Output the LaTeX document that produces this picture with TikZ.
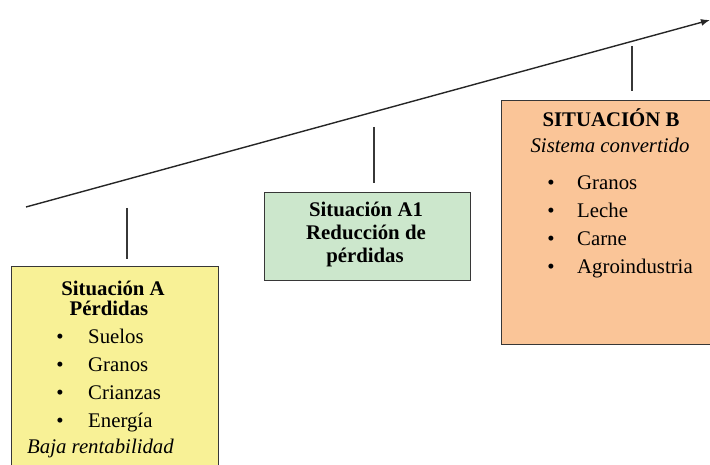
\documentclass[tikz,border=0pt]{standalone}
\usepackage{fontspec}
\setmainfont{Liberation Serif}
\usetikzlibrary{arrows.meta}
\definecolor{boxyellow}{RGB}{248,241,150}
\definecolor{boxgreen}{RGB}{204,231,204}
\definecolor{boxorange}{RGB}{250,197,152}
\definecolor{edge}{RGB}{55,55,55}
\tikzset{
  box/.style={draw=edge, line width=1.4pt, anchor=north west, inner sep=0pt},
  txt/.style={anchor=base, inner sep=0pt, font=\fontsize{20.8}{25}\selectfont},
  txtl/.style={anchor=base west, inner sep=0pt, font=\fontsize{20.8}{25}\selectfont},
  tick/.style={draw=edge, line width=1.3pt},
  timeline/.style={draw=black!85, line width=1.4pt, -{Latex[length=9pt,width=7pt]}}
}
\begin{document}
\begin{tikzpicture}[x=1pt,y=-1pt]
\useasboundingbox (0,0) rectangle (710,465);
\clip (0,0) rectangle (710,465);
% boxes
\node[box, fill=boxyellow, minimum width=207pt, minimum height=220pt] (boxA) at (11,266) {};
\node[box, fill=boxgreen, minimum width=206pt, minimum height=88pt] (boxA1) at (264,192) {};
\node[box, fill=boxorange, minimum width=220pt, minimum height=244pt] (boxB) at (501,100) {};
% timeline
\coordinate (tlstart) at (26,207);
\coordinate (tlend) at (710,20);
\draw[timeline] (tlstart) -- (tlend);
% ticks
\coordinate (ta1) at (127,208); \coordinate (ta2) at (127,259);
\coordinate (tb1) at (374,127); \coordinate (tb2) at (374,183);
\coordinate (tc1) at (632,46);  \coordinate (tc2) at (632,91);
\draw[tick] (ta1) -- (ta2);
\draw[tick] (tb1) -- (tb2);
\draw[tick] (tc1) -- (tc2);
% box A text
\node[txt] (a1) at (113,295) {\textbf{Situación A}};
\node[txt] (a2) at (109,316) {\textbf{Pérdidas}};
\node[txt] (ab1) at (60,343) {\textbullet};
\node[txtl] (as1) at (88,343) {Suelos};
\node[txt] (ab2) at (60,371) {\textbullet};
\node[txtl] (as2) at (88,371) {Granos};
\node[txt] (ab3) at (60,399) {\textbullet};
\node[txtl] (as3) at (88,399) {Crianzas};
\node[txt] (ab4) at (60,427) {\textbullet};
\node[txtl] (as4) at (88,427) {Energía};
\node[txtl] (a3) at (27,453) {\textit{Baja rentabilidad}};
% box A1 text
\node[txt] (g1) at (366,217) {\textbf{Situación A1}};
\node[txt] (g2) at (366,240) {\textbf{Reducción de}};
\node[txt] (g3) at (365,263) {\textbf{pérdidas}};
% box B text
\node[txt] (b1) at (611,127) {\textbf{SITUACIÓN B}};
\node[txt] (b2) at (610,153) {\textit{Sistema convertido}};
\node[txt] (bb1) at (551,190) {\textbullet};
\node[txtl] (bs1) at (577,190) {Granos};
\node[txt] (bb2) at (551,218) {\textbullet};
\node[txtl] (bs2) at (577,218) {Leche};
\node[txt] (bb3) at (551,246) {\textbullet};
\node[txtl] (bs3) at (577,246) {Carne};
\node[txt] (bb4) at (551,274) {\textbullet};
\node[txtl] (bs4) at (577,274) {Agroindustria};
\end{tikzpicture}
\end{document}
